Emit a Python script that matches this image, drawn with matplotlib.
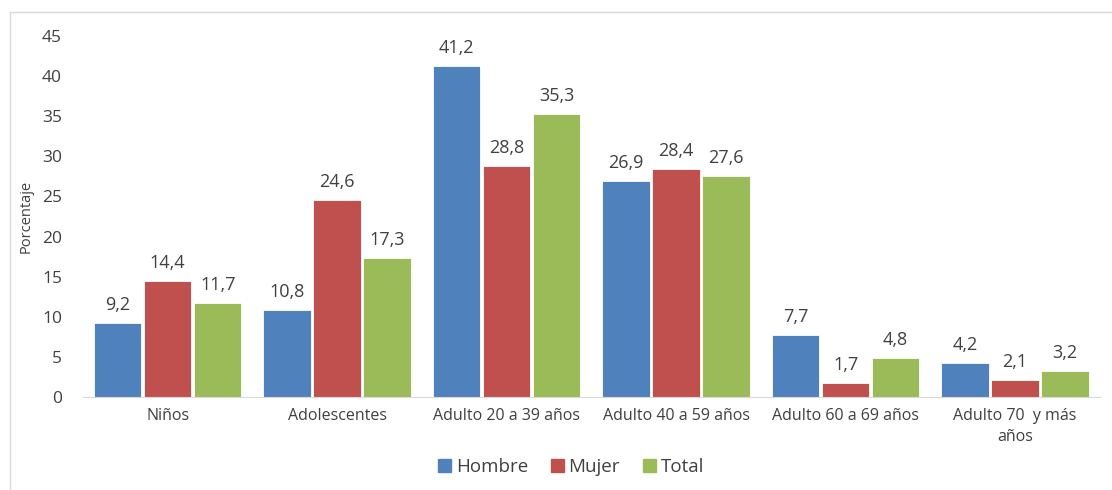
import numpy as np
import matplotlib.pyplot as plt
from matplotlib.lines import Line2D

categories = ['Niños', 'Adolescentes', 'Adulto 20 a 39 años', 'Adulto 40 a 59 años',
              'Adulto 60 a 69 años', 'Adulto 70  y más\naños']
hombre = [9.2, 10.8, 41.2, 26.9, 7.7, 4.2]
mujer = [14.4, 24.6, 28.8, 28.4, 1.7, 2.1]
total = [11.7, 17.3, 35.3, 27.6, 4.8, 3.2]
series = ['Hombre', 'Mujer', 'Total']
colors = ['#4F81BD', '#C0504D', '#9BBB59']
yticks = list(range(0, 50, 5))

plt.rcParams['font.family'] = ['Open Sans', 'DejaVu Sans']
text_color = '#404040'

fig = plt.figure(figsize=(11.12, 4.9), dpi=100)
ax = fig.add_axes([0.0746, 0.1898, 0.9144, 0.7367])

x = np.arange(len(categories))
width = 0.28
step = 0.295
for i, (vals, name, color) in enumerate(zip([hombre, mujer, total], series, colors)):
    pos = x + (i - 1) * step
    ax.bar(pos, vals, width, color=color, edgecolor='white', linewidth=0.6, label=name)
    for xv, v in zip(pos, vals):
        ax.annotate(f'{v:.1f}'.replace('.', ','), (xv, v), xytext=(0, 6.5),
                    textcoords='offset points', ha='center', va='bottom',
                    fontsize=13, color=text_color)

ax.set_xlim(-0.5, len(categories) - 0.5)
ax.set_ylim(0, 45)
ax.set_yticks(yticks)
ax.set_yticklabels([str(t) for t in yticks], fontsize=12.5, color=text_color)
ax.set_xticks(x)
ax.set_xticklabels(categories, fontsize=11.5, color=text_color, linespacing=1.4)
ax.tick_params(axis='both', length=0)
ax.tick_params(axis='y', pad=15)
ax.tick_params(axis='x', pad=8)
for s in ['top', 'right', 'left']:
    ax.spines[s].set_visible(False)
ax.spines['bottom'].set_color('#D9D9D9')
ax.set_ylabel('Porcentaje', fontsize=10.5, color=text_color)
ax.yaxis.set_label_coords(-0.049, 0.5)

handles = [plt.Rectangle((0, 0), 1, 1, color=c) for c in colors]
fig.legend(handles, series, loc='center', bbox_to_anchor=(571 / 1112, 1 - 467 / 490), ncol=3,
           frameon=False, fontsize=13.5, handlelength=0.7, handleheight=0.7,
           handletextpad=0.25, columnspacing=1.2, labelcolor=text_color)

# chart border (left and top edges visible)
fig.add_artist(Line2D([10 / 1112, 10 / 1112], [0, 1 - 12 / 490], color='#D9D9D9', lw=1))
fig.add_artist(Line2D([10 / 1112, 1], [1 - 12 / 490, 1 - 12 / 490], color='#D9D9D9', lw=1))

fig.savefig('out.png', dpi=100)
